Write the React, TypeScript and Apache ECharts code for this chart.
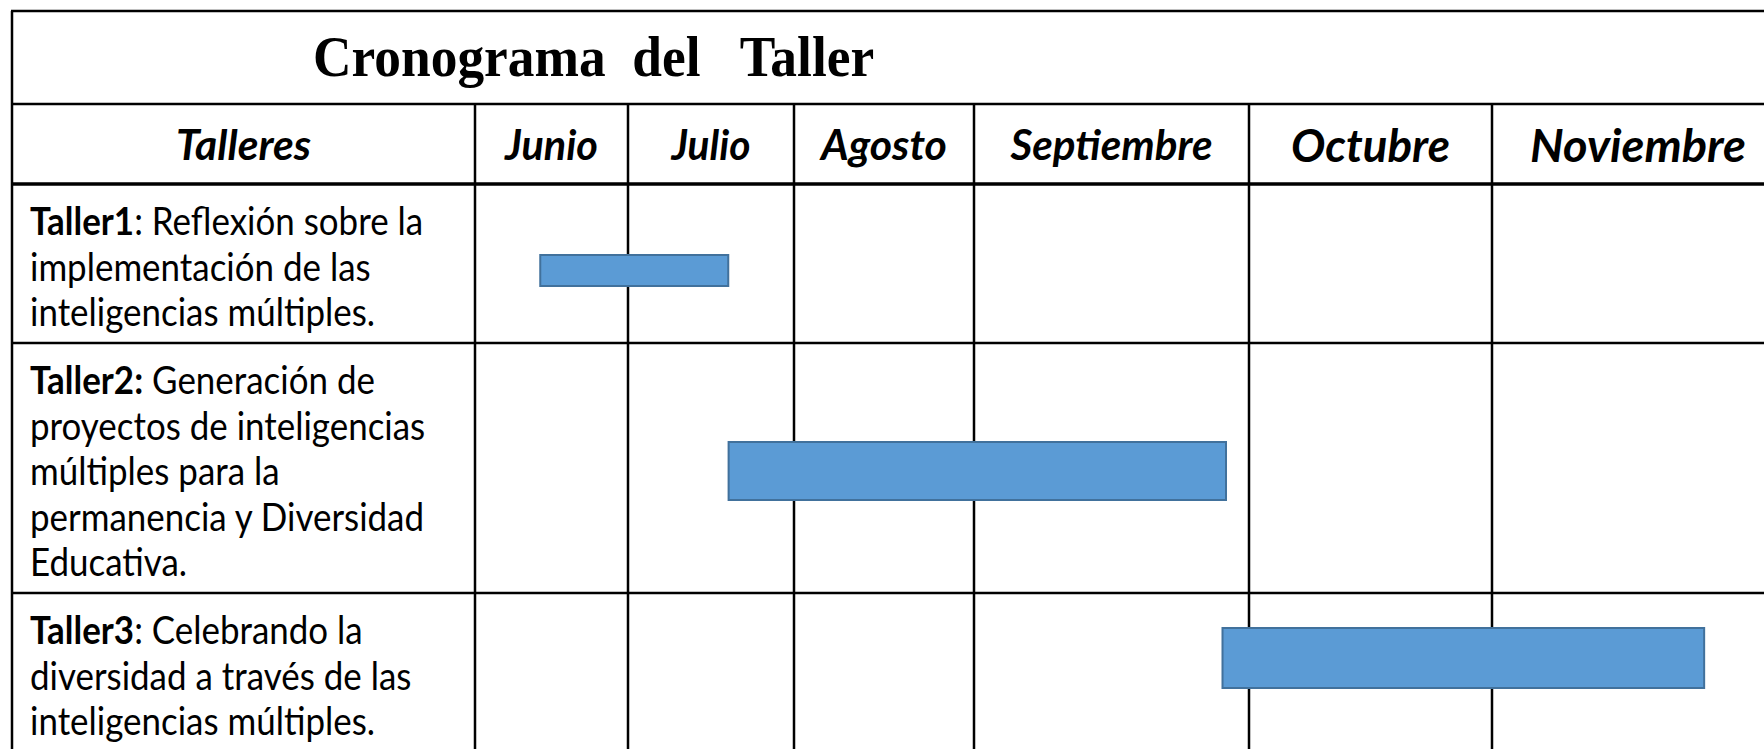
import React, { useEffect, useRef } from 'react';
import * as echarts from 'echarts';

// ---------- data ----------
const title = 'Cronograma  del   Taller';
const firstHeader = 'Talleres';
const months = ['Junio', 'Julio', 'Agosto', 'Septiembre', 'Octubre', 'Noviembre'];
const tallerNames = ['Taller1', 'Taller2:', 'Taller3'];
const tallerDescriptions = [
  ': Reflexión sobre la\nimplementación de las\ninteligencias múltiples.',
  ' Generación de\nproyectos de inteligencias\nmúltiples para la\npermanencia y Diversidad\nEducativa.',
  ': Celebrando la\ndiversidad a través de las\ninteligencias múltiples.',
];
// bar start / end expressed in months (0 = start of Junio, 1 = start of Julio, ...)
const barStart = [0.42, 1.6, 3.9];
const barEnd = [1.61, 3.92, 5.73];

// ---------- layout ----------
const W = 1764;
const H = 749;
const TABLE_LEFT = 12;
const TABLE_TOP = 11;
const TITLE_BOTTOM = 104;
const HEADER_BOTTOM = 184;
const FIRST_COL_RIGHT = 475;
const colWidths = [153, 166, 180, 275, 243, 292];
const rowHeights = [159, 250, 159];
const barCenterFrac = [0.544, 0.512, 0.409];
const barThickness = [33, 60, 62];
const headerFontSizes = [42, 42, 42, 42, 42, 46, 46];
const headerTargetWidths = [135, 93, 79, 126, 202, 159, 216];
const HEADER_CY = 144;
const TITLE_X = 313;
const TITLE_CY = 57;
const TITLE_W = 562;
const TITLE_SIZE = 57;
const ROW_FONT = 39;
const ROW_LINE = 45.5;
const ROW_TEXT_X = 30;
const ROW_FIRST_CY = 36;
const ROW_REF_TEXT = 'inteligencias múltiples.';
const ROW_REF_W = 345;
const SANS = 'Lato';
const SERIF = '"Liberation Serif"';
const LINE_W = 2.5;

const colEdges: number[] = [0];
colWidths.forEach((w, i) => colEdges.push(colEdges[i] + w));
const rowEdges: number[] = [0];
rowHeights.forEach((h, i) => rowEdges.push(rowEdges[i] + h));

const monthToUnits = (m: number) => {
  const i = Math.min(Math.floor(m), colWidths.length - 1);
  return colEdges[i] + (m - i) * colWidths[i];
};

let ctx: CanvasRenderingContext2D | null = null;
const measure = (text: string, font: string) => {
  if (!ctx) ctx = document.createElement('canvas').getContext('2d');
  ctx!.font = font;
  return ctx!.measureText(text).width;
};

export default function App() {
  const ref = useRef<HTMLDivElement>(null);
  useEffect(() => {
    if (!ref.current) return;
    const chart = echarts.init(ref.current, undefined, { renderer: 'svg' });

    const graphics: any[] = [];
    const hLine = (y: number, x1: number, x2: number, w = LINE_W) =>
      graphics.push({ type: 'line', z: 1, shape: { x1, y1: y, x2, y2: y }, style: { stroke: '#000', lineWidth: w } });
    const vLine = (x: number, y1: number, y2: number, w = LINE_W) =>
      graphics.push({ type: 'line', z: 1, shape: { x1: x, y1, x2: x, y2 }, style: { stroke: '#000', lineWidth: w } });

    // table lines
    hLine(TABLE_TOP, TABLE_LEFT - 1, W);
    hLine(TITLE_BOTTOM, TABLE_LEFT - 1, W);
    hLine(HEADER_BOTTOM, TABLE_LEFT - 1, W, 3.5);
    rowEdges.slice(1, -1).forEach((r) => hLine(HEADER_BOTTOM + r, TABLE_LEFT - 1, W));
    vLine(TABLE_LEFT, TABLE_TOP, H);
    const colXs = colEdges.slice(0, -1).map((e) => FIRST_COL_RIGHT + e);
    colXs.forEach((x) => vLine(x, TITLE_BOTTOM, H));

    // title
    const titleFont = `bold ${TITLE_SIZE}px ${SERIF}`;
    graphics.push({
      type: 'text',
      z: 2,
      x: TITLE_X,
      y: TITLE_CY,
      scaleX: TITLE_W / measure(title, titleFont),
      style: {
        text: title,
        fontFamily: SERIF,
        fontWeight: 'bold',
        fontSize: TITLE_SIZE,
        fill: '#000',
        align: 'left',
        verticalAlign: 'middle',
      },
    });

    // header labels
    const headers = [firstHeader, ...months];
    const headerCenters = [
      (TABLE_LEFT + FIRST_COL_RIGHT) / 2,
      ...colWidths.map((w, i) => FIRST_COL_RIGHT + colEdges[i] + w / 2),
    ];
    headers.forEach((h, i) => {
      const fs = headerFontSizes[i];
      const font = `italic bold ${fs}px ${SANS}`;
      graphics.push({
        type: 'text',
        z: 2,
        x: headerCenters[i],
        y: HEADER_CY,
        scaleX: headerTargetWidths[i] / measure(h, font),
        style: {
          text: h,
          fontFamily: SANS,
          fontStyle: 'italic',
          fontWeight: 'bold',
          fontSize: fs,
          fill: '#000',
          align: 'center',
          verticalAlign: 'middle',
        },
      });
    });

    // row labels
    const rowScale = ROW_REF_W / measure(ROW_REF_TEXT, `${ROW_FONT}px ${SANS}`);
    tallerNames.forEach((name, i) => {
      graphics.push({
        type: 'text',
        z: 2,
        x: ROW_TEXT_X,
        y: HEADER_BOTTOM + rowEdges[i] + ROW_FIRST_CY - ROW_LINE / 2,
        scaleX: rowScale,
        style: {
          text: `{b|${name}}${tallerDescriptions[i]}`,
          fontFamily: SANS,
          fontSize: ROW_FONT,
          lineHeight: ROW_LINE,
          fill: '#000',
          align: 'left',
          verticalAlign: 'top',
          rich: {
            b: { fontFamily: SANS, fontWeight: 'bold', fontSize: ROW_FONT, lineHeight: ROW_LINE, fill: '#000' },
          },
        },
      });
    });

    chart.setOption({
      animation: false,
      backgroundColor: '#fff',
      grid: { left: FIRST_COL_RIGHT, top: HEADER_BOTTOM, right: 0, bottom: 0, containLabel: false },
      xAxis: { type: 'value', min: 0, max: W - FIRST_COL_RIGHT, show: false },
      yAxis: { type: 'value', min: 0, max: H - HEADER_BOTTOM, inverse: true, show: false },
      graphic: { elements: graphics },
      series: [
        {
          type: 'custom',
          z: 10,
          clip: false,
          data: barStart.map((s, i) => [i, s, barEnd[i]]),
          renderItem: (params: any, api: any) => {
            const row = api.value(0);
            const yc = rowEdges[row] + barCenterFrac[row] * rowHeights[row];
            const p1 = api.coord([monthToUnits(api.value(1)), yc]);
            const p2 = api.coord([monthToUnits(api.value(2)), yc]);
            const h = barThickness[row];
            return {
              type: 'rect',
              shape: { x: p1[0] + 1, y: p1[1] - h / 2 + 1, width: p2[0] - p1[0] - 2, height: h - 2 },
              style: { fill: '#5B9BD5', stroke: '#41719C', lineWidth: 2 },
            };
          },
        },
      ],
    });

    return () => chart.dispose();
  }, []);

  return (
    <div
      ref={ref}
      style={{ position: 'absolute', left: 0, top: 0, width: W, height: H, background: '#fff' }}
    />
  );
}
